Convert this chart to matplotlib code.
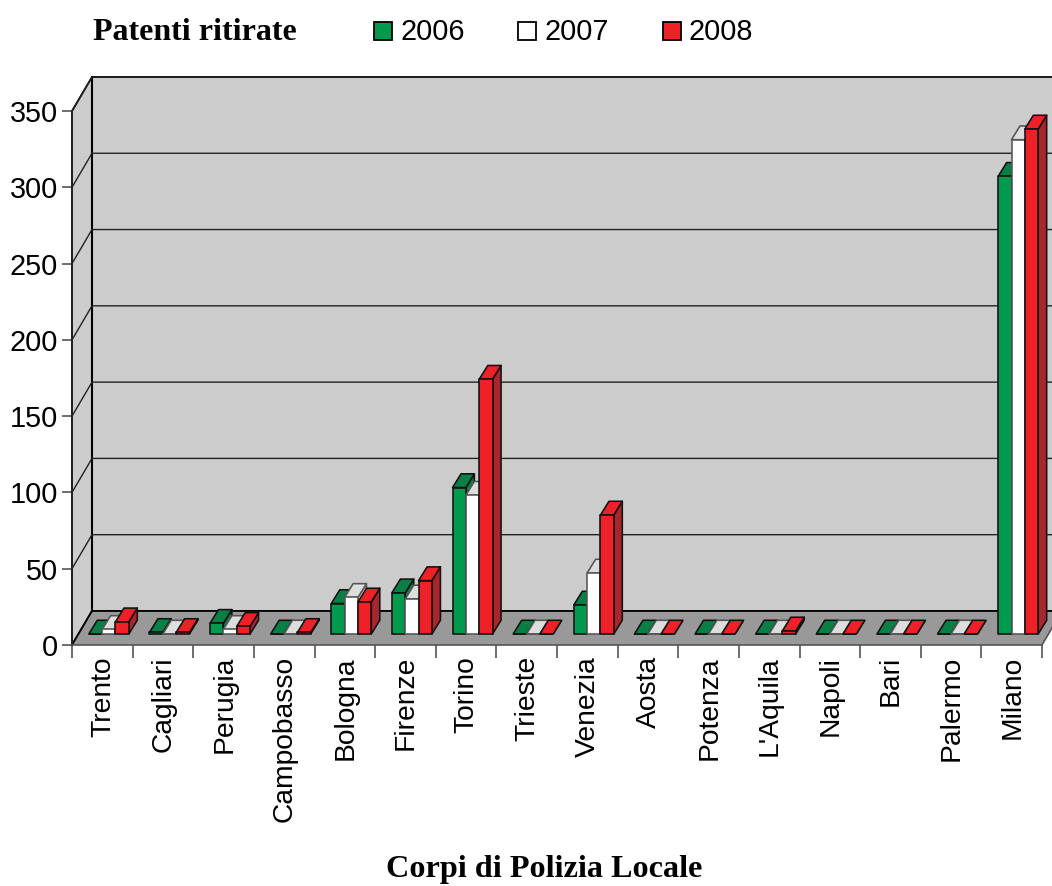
import matplotlib
matplotlib.use("Agg")
import matplotlib.pyplot as plt
from matplotlib.patches import Polygon, Rectangle

plt.rcParams['font.family'] = ['Liberation Sans', 'DejaVu Sans']

# data
cities = ['Trento', 'Cagliari', 'Perugia', 'Campobasso', 'Bologna', 'Firenze', 'Torino', 'Trieste',
          'Venezia', 'Aosta', 'Potenza', "L'Aquila", 'Napoli', 'Bari', 'Palermo', 'Milano']
years = ['2006', '2007', '2008']
v2006 = [0, 1, 7, 0, 20, 27, 96, 0, 19, 0, 0, 0, 0, 0, 0, 300]
v2007 = [3, 0, 3, 0, 24, 23, 91, 0, 40, 0, 0, 0, 0, 0, 0, 324]
v2008 = [8, 1, 5, 1, 21, 35, 167, 0, 78, 0, 0, 2, 0, 0, 0, 331]
y_ticks = [0, 50, 100, 150, 200, 250, 300, 350]

# colours: front, top, side, edge
colors = [('#009A4E', '#0A7F45', '#0A7F45', '#111111'),
          ('white', '#DDDDDD', '#DDDDDD', '#555555'),
          ('#EE2028', '#EE2028', '#A8262E', '#111111')]

W, H = 1052, 886
fig = plt.figure(figsize=(W / 100, H / 100), dpi=100)
ax = fig.add_axes([72 / W, (H - 645) / H, 970 / W, 534 / H])
ax.set_xlim(0, 16)
ax.set_ylim(0, 350)
for s in ax.spines.values():
    s.set_visible(False)
ax.patch.set_visible(False)

# depth of the box and of the bars, in data units
box_dx, box_dy = 0.33, 22.3
bar_dx, bar_dy = 0.14, 9.0
off_dx, off_dy = 0.107, 7.2
bar_w = 0.22
gap = (1 - 3 * bar_w) / 2
x_end = 16.7


def poly(pts, fc, ec='black', lw=1.15, z=1):
    ax.add_patch(Polygon(pts, closed=True, fc=fc, ec=ec, lw=lw, zorder=z, clip_on=False, joinstyle='round'))


# walls and floor
poly([(0, 0), (box_dx, box_dy), (box_dx, 350 + box_dy), (0, 350)], '#CCCCCC', lw=1.3)
poly([(box_dx, box_dy), (x_end, box_dy), (x_end, 350 + box_dy), (box_dx, 350 + box_dy)], '#CCCCCC', lw=1.3)
poly([(0, 0), (16, 0), (16 + box_dx, box_dy), (box_dx, box_dy)], '#999999', ec='none', lw=0)
ax.plot([0, box_dx, x_end], [0, box_dy, box_dy], color='black', lw=1.3, zorder=2, clip_on=False)
ax.plot([box_dx, box_dx], [box_dy, 350 + box_dy], color='black', lw=1.5, zorder=2, clip_on=False)
ax.plot([0, 0], [0, 350], color='#222222', lw=1.3, zorder=2, clip_on=False)
ax.plot([0, 16], [0, 0], color='#555555', lw=1.2, zorder=2, clip_on=False)
ax.plot([16, 16 + box_dx], [0, box_dy], color='#555555', lw=1.2, zorder=2, clip_on=False)

# gridlines on both walls
for t in y_ticks[1:]:
    ax.plot([0, box_dx, x_end], [t, t + box_dy, t + box_dy], color='#222222', lw=1.0, zorder=2, clip_on=False)

# bars
z = 3
for i in range(len(cities)):
    for j, vals in enumerate([v2006, v2007, v2008]):
        v = vals[i]
        front, top, side, edge = colors[j]
        x0 = i + gap + j * bar_w + off_dx
        x1 = x0 + bar_w
        y0 = off_dy
        y1 = off_dy + v
        poly([(x1, y0), (x1 + bar_dx, y0 + bar_dy), (x1 + bar_dx, y1 + bar_dy), (x1, y1)], side, ec=edge, z=z)
        poly([(x0, y1), (x1, y1), (x1 + bar_dx, y1 + bar_dy), (x0 + bar_dx, y1 + bar_dy)], top, ec=edge, z=z)
        poly([(x0, y0), (x1, y0), (x1, y1), (x0, y1)], front, ec=edge, z=z)
        z += 0.01

# axes ticks
ax.set_yticks(y_ticks)
ax.set_xticks(range(17))
ax.set_xticks([i + 0.51 for i in range(16)], minor=True)
ax.set_xticklabels([])
ax.set_xticklabels(cities, minor=True, rotation=90, va='top', ha='center')
ax.tick_params(axis='y', length=7, width=1.2, color='#555555', labelsize=20.8, pad=3)
ax.tick_params(axis='x', which='major', length=9, width=1.2, color='#555555')
ax.tick_params(axis='x', which='minor', length=0, labelsize=20.3, pad=8)

# header and axis title
serif = ['Liberation Serif', 'DejaVu Serif']
fig.text(93 / W, 1 - 32 / H, 'Patenti ritirate', family=serif, weight='bold', fontsize=23, va='center', ha='left')
fig.text(544 / W, 1 - 870 / H, 'Corpi di Polizia Locale', family=serif, weight='bold', fontsize=23.2,
         va='center', ha='center')

# legend
for x, label, c in zip([374, 518, 663], years, colors):
    fig.add_artist(Rectangle((x / W, 1 - 40 / H), 18 / W, 18 / H, transform=fig.transFigure,
                             fc=c[0], ec='black', lw=1.3))
    fig.text((x + 26) / W, 1 - 32 / H, label, fontsize=20.8, va='center', ha='left')

fig.savefig('out.png', dpi=100)
